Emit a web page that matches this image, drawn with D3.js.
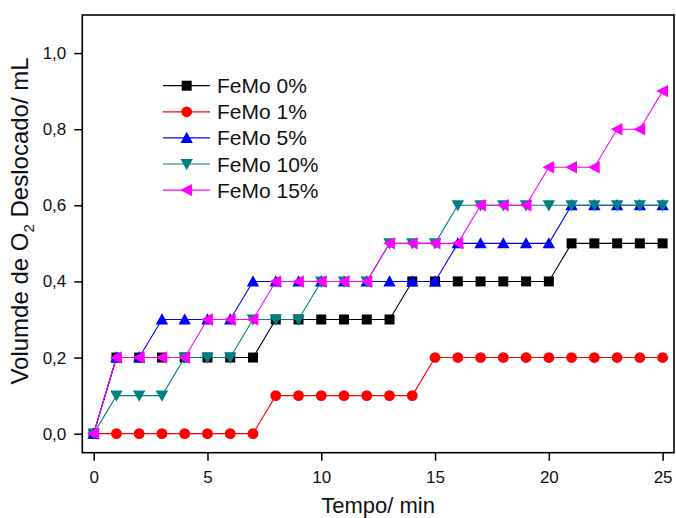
<!DOCTYPE html>
<html>
<head>
<meta charset="utf-8">
<script src="https://cdn.jsdelivr.net/npm/d3@7"></script>
<style>
  html, body { margin: 0; padding: 0; background: #fff; }
  svg { display: block; font-family: "Liberation Sans", Arial, sans-serif; }
</style>
</head>
<body>
<svg id="chart" width="676" height="518"></svg>
<script>
// Time axis (minutes)
const tempo = d3.range(0, 26);

// Displaced O2 volume (mL) per catalyst loading
const femo0  = [0,0.2,0.2,0.2,0.2,0.2,0.2,0.2,0.3,0.3,0.3,0.3,0.3,0.3,0.4,0.4,0.4,0.4,0.4,0.4,0.4,0.5,0.5,0.5,0.5,0.5];
const femo1  = [0,0,0,0,0,0,0,0,0.1,0.1,0.1,0.1,0.1,0.1,0.1,0.2,0.2,0.2,0.2,0.2,0.2,0.2,0.2,0.2,0.2,0.2];
const femo5  = [0,0.2,0.2,0.3,0.3,0.3,0.3,0.4,0.4,0.4,0.4,0.4,0.4,0.4,0.4,0.4,0.5,0.5,0.5,0.5,0.5,0.6,0.6,0.6,0.6,0.6];
const femo10 = [0,0.1,0.1,0.1,0.2,0.2,0.2,0.3,0.3,0.3,0.4,0.4,0.4,0.5,0.5,0.5,0.6,0.6,0.6,0.6,0.6,0.6,0.6,0.6,0.6,0.6];
const femo15 = [0,0.2,0.2,0.2,0.2,0.3,0.3,0.3,0.4,0.4,0.4,0.4,0.4,0.5,0.5,0.5,0.5,0.6,0.6,0.6,0.7,0.7,0.7,0.8,0.8,0.9];

const seriesNames = ["FeMo 0%", "FeMo 1%", "FeMo 5%", "FeMo 10%", "FeMo 15%"];
const seriesValues = [femo0, femo1, femo5, femo10, femo15];
const seriesColors = ["#000000", "#ff0000", "#0000ff", "#008080", "#ff00ff"];
const seriesShapes = ["square", "circle", "triUp", "triDown", "triLeft"];

const xTicks = [0, 5, 10, 15, 20, 25];
const yTicks = [0, 0.2, 0.4, 0.6, 0.8, 1.0];

const svg = d3.select("#chart");
const plotL = 82.3, plotR = 674, plotT = 15, plotB = 452.7;

const x = d3.scaleLinear().domain([-0.5, 25.5]).range([plotL, plotR]);
const y = d3.scaleLinear().domain([-0.05, 1.1]).range([plotB, plotT]);

// Marker outlines, centred on the origin
function markerPath(shape) {
  switch (shape) {
    case "square":  return "M-5,-5H5V5H-5Z";
    case "circle":  return "M5.4,0A5.4,5.4 0 1,1 -5.4,0A5.4,5.4 0 1,1 5.4,0Z";
    case "triUp":   return "M0,-6.2L6.2,5L-6.2,5Z";
    case "triDown": return "M0,6.2L6.2,-5L-6.2,-5Z";
    case "triLeft": return "M-6.4,0L5.4,-6.2L5.4,6.2Z";
  }
}

const fmt = d => d3.format(".1f")(d).replace(".", ",");

// Axes (ticks outward, left and bottom)
const xAxis = d3.axisBottom(x).tickValues(xTicks).tickSize(8).tickSizeOuter(0).tickPadding(10);
const yAxis = d3.axisLeft(y).tickValues(yTicks).tickSize(8).tickSizeOuter(0).tickPadding(8).tickFormat(fmt);

const gx = svg.append("g").attr("transform", `translate(0,${plotB})`).call(xAxis);
const gy = svg.append("g").attr("transform", `translate(${plotL},0)`).call(yAxis);
[gx, gy].forEach(g => {
  g.select(".domain").remove();
  g.selectAll(".tick line").attr("stroke", "#000").attr("stroke-width", 1.5);
  g.selectAll(".tick text").attr("fill", "#111").style("font-size", "17px")
    .style("font-family", "'Liberation Sans', Arial, sans-serif");
});

// Data series
const line = d3.line().x((d, i) => x(tempo[i])).y(d => y(d));
seriesValues.forEach((vals, s) => {
  const g = svg.append("g");
  g.append("path").datum(vals)
    .attr("d", line)
    .attr("fill", "none")
    .attr("stroke", seriesColors[s])
    .attr("stroke-width", 1.1);
  g.selectAll("path.mk").data(vals).enter().append("path")
    .attr("class", "mk")
    .attr("d", markerPath(seriesShapes[s]))
    .attr("transform", (d, i) => `translate(${x(tempo[i])},${y(d)})`)
    .attr("fill", seriesColors[s]);
});

// Plot frame
svg.append("rect")
  .attr("x", plotL).attr("y", plotT)
  .attr("width", plotR - plotL).attr("height", plotB - plotT)
  .attr("fill", "none").attr("stroke", "#000").attr("stroke-width", 1.6);

// Legend
const legend = svg.append("g");
seriesNames.forEach((name, s) => {
  const ly = 85.7 + s * 26.1;
  legend.append("line")
    .attr("x1", 163).attr("x2", 210).attr("y1", ly).attr("y2", ly)
    .attr("stroke", seriesColors[s]).attr("stroke-width", 1.2);
  legend.append("path")
    .attr("d", markerPath(seriesShapes[s]))
    .attr("transform", `translate(186.7,${ly})`)
    .attr("fill", seriesColors[s]);
  legend.append("text")
    .attr("x", 217).attr("y", ly).attr("dy", "0.36em")
    .style("font-size", "21px").attr("fill", "#111")
    .text(name);
});

// Axis titles
svg.append("text")
  .attr("x", (plotL + plotR) / 2).attr("y", 512.5)
  .attr("text-anchor", "middle")
  .style("font-size", "22px").attr("fill", "#111")
  .text("Tempo/ min");

const yt = svg.append("text")
  .attr("transform", "translate(28,221) rotate(-90)")
  .attr("text-anchor", "middle")
  .style("font-size", "24px").attr("fill", "#111");
yt.append("tspan").text("Volumde de O");
yt.append("tspan").attr("dy", 6).style("font-size", "15px").text("2");
yt.append("tspan").attr("dy", -6).text(" Deslocado/ mL");
</script>
</body>
</html>
